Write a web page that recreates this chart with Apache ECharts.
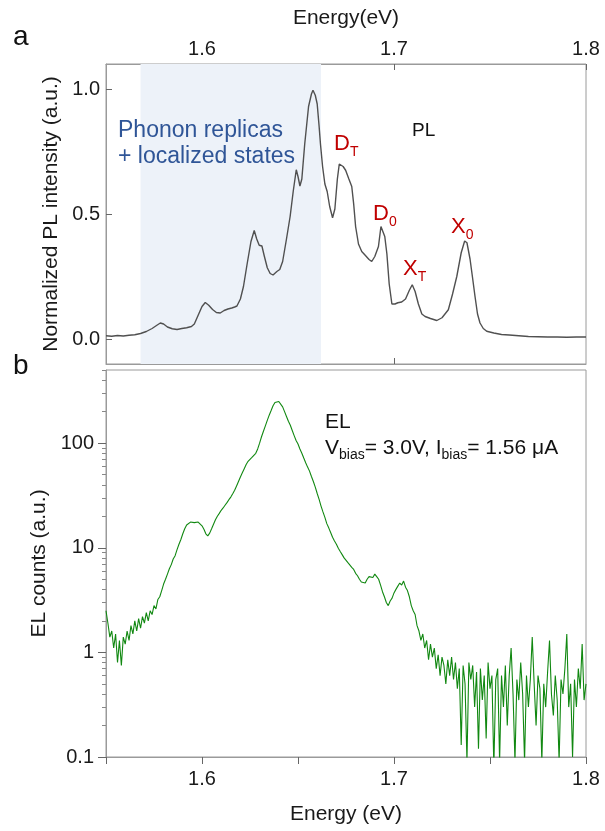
<!DOCTYPE html>
<html>
<head>
<meta charset="utf-8">
<script src="https://cdn.jsdelivr.net/npm/echarts@6/dist/echarts.min.js"></script>
<style>
  html, body { margin: 0; padding: 0; background: #fff; }
  #chart { width: 605px; height: 831px; }
</style>
</head>
<body>
<div id="chart"></div>
<script>
// PL spectrum (panel a), normalized
var plEnergy = [1.5500, 1.5530, 1.5560, 1.5590, 1.5620, 1.5650, 1.5680, 1.5710, 1.5740, 1.5765,
  1.5783, 1.5800, 1.5820, 1.5845, 1.5870, 1.5895, 1.5920, 1.5945, 1.5960, 1.5980,
  1.6000, 1.6017, 1.6035, 1.6055, 1.6075, 1.6095, 1.6115, 1.6135, 1.6155, 1.6170,
  1.6182, 1.6200, 1.6216, 1.6235, 1.6255, 1.6272, 1.6285, 1.6298, 1.6312, 1.6325,
  1.6340, 1.6355, 1.6370, 1.6390, 1.6405, 1.6420, 1.6440, 1.6459, 1.6475, 1.6491,
  1.6500, 1.6510, 1.6520, 1.6535, 1.6555, 1.6570, 1.6578, 1.6590, 1.6600, 1.6610,
  1.6617, 1.6628, 1.6640, 1.6652, 1.6665, 1.6680, 1.6692, 1.6705, 1.6715, 1.6725,
  1.6735, 1.6748, 1.6765, 1.6780, 1.6790, 1.6800, 1.6815, 1.6832, 1.6850, 1.6870,
  1.6884, 1.6900, 1.6919, 1.6932, 1.6940, 1.6952, 1.6963, 1.6975, 1.6989, 1.7005,
  1.7020, 1.7040, 1.7060, 1.7080, 1.7095, 1.7110, 1.7127, 1.7145, 1.7162, 1.7190,
  1.7223, 1.7250, 1.7283, 1.7305, 1.7327, 1.7350, 1.7368, 1.7380, 1.7396, 1.7410,
  1.7422, 1.7435, 1.7448, 1.7465, 1.7483, 1.7520, 1.7560, 1.7600, 1.7650, 1.7700,
  1.7750, 1.7800, 1.7850, 1.7900, 1.7950, 1.8000];
var plIntensity = [0.013, 0.011, 0.014, 0.012, 0.015, 0.017, 0.022, 0.030, 0.042, 0.055,
  0.064, 0.060, 0.048, 0.041, 0.038, 0.042, 0.045, 0.050, 0.060, 0.095,
  0.130, 0.146, 0.135, 0.118, 0.106, 0.104, 0.114, 0.120, 0.124, 0.128,
  0.132, 0.160, 0.210, 0.300, 0.390, 0.434, 0.400, 0.375, 0.372, 0.330,
  0.285, 0.262, 0.256, 0.270, 0.278, 0.310, 0.400, 0.490, 0.590, 0.677,
  0.650, 0.612, 0.640, 0.780, 0.930, 0.980, 0.995, 0.975, 0.940, 0.850,
  0.780, 0.690, 0.620, 0.590, 0.530, 0.485, 0.520, 0.640, 0.700, 0.705,
  0.690, 0.675, 0.640, 0.610, 0.540, 0.450, 0.380, 0.350, 0.335, 0.318,
  0.310, 0.330, 0.370, 0.450, 0.455, 0.410, 0.340, 0.220, 0.140, 0.140,
  0.145, 0.148, 0.160, 0.195, 0.217, 0.190, 0.140, 0.100, 0.090, 0.082,
  0.074, 0.085, 0.117, 0.180, 0.250, 0.345, 0.392, 0.385, 0.320, 0.240,
  0.170, 0.100, 0.064, 0.042, 0.031, 0.024, 0.018, 0.016, 0.013, 0.010,
  0.009, 0.008, 0.008, 0.007, 0.008, 0.008];

// EL spectrum (panel b), one reading every 1 meV from 1.550 eV
var elStart = 1.550;
var elStep = 0.001;
var elCounts = [
  2.5, 1.9, 1.4, 1.6, 1.1, 1.5, 0.8, 1.3, 0.75, 1.4,
  1.2, 1.6, 1.3, 1.8, 1.5, 2.0, 1.6, 2.1, 1.7, 2.2,
  1.9, 2.4, 2.0, 2.5, 2.3, 2.8, 2.6, 3.2, 3.4, 3.9,
  4.5, 5.0, 5.6, 6.3, 6.9, 7.8, 8.4, 9.6, 10.8, 12.0,
  13.6, 15.2, 16.5, 17.2, 17.6, 17.9, 17.4, 18.0, 17.6, 17.0,
  16.2, 15.0, 13.6, 13.0, 13.8, 15.2, 16.8, 18.5, 20.0, 21.3,
  22.8, 24.0, 25.5, 27.0, 28.8, 30.5, 32.8, 35.5, 39.0, 43.0,
  47.5, 52.0, 57.0, 62.5, 67.0, 70.0, 73.0, 76.0, 80.0, 88.0,
  100, 115, 130, 146, 165, 185, 205, 228, 245, 252,
  250, 240, 222, 200, 180, 162, 148, 132, 118, 106,
  98, 88, 80, 72, 65, 59, 54, 48, 43, 38,
  33, 29, 25, 22, 19.5, 17, 15.5, 14, 12.6, 11.6,
  10.8, 9.9, 9.2, 8.6, 8.0, 7.8, 7.2, 7.0, 6.5, 6.2,
  5.7, 5.4, 5.0, 4.7, 4.5, 4.6, 5.0, 5.3, 5.5, 5.2,
  5.6, 5.3, 5.0, 4.4, 3.8, 3.4, 3.0, 2.8, 3.1, 3.3,
  3.7, 4.0, 4.3, 4.6, 4.4, 4.8, 4.2, 3.9, 3.4, 2.8,
  2.5, 2.3, 1.8, 1.6, 1.3, 1.5, 1.1, 1.3, 0.85, 1.2,
  0.9, 1.1, 0.7, 0.95, 0.6, 0.9, 0.75, 0.5, 0.85, 0.6,
  0.9, 0.55, 0.8, 0.45, 0.7, 0.13, 0.75, 0.5, 0.09, 0.8,
  0.55, 0.75, 0.3, 0.65, 0.12, 0.7, 0.35, 0.6, 0.15, 0.8,
  0.45, 0.6, 0.08, 0.55, 0.7, 0.09, 0.6, 0.3, 0.75, 0.2,
  0.6, 1.1, 0.4, 0.09, 0.55, 0.35, 0.8, 0.4, 0.09, 0.6,
  0.3, 0.55, 1.4, 0.5, 0.2, 0.6, 0.45, 0.09, 0.5, 0.3,
  0.65, 1.3, 0.4, 0.25, 0.6, 0.35, 0.09, 0.55, 0.4, 0.7,
  1.5, 0.3, 0.5, 0.1, 0.55, 0.3, 0.7, 0.45, 1.2, 0.35,
  0.5];

var energyTicks = [1.6, 1.7, 1.8];
var plTicks = [0, 0.5, 1.0];
var elMajorTicks = [0.1, 1, 10, 100];
var elMinorTicks = [0.2, 0.3, 0.4, 0.5, 0.6, 0.7, 0.8, 0.9,
  2, 3, 4, 5, 6, 7, 8, 9, 20, 30, 40, 50, 60, 70, 80, 90,
  200, 300, 400, 500];
var shadeRange = [1.568, 1.662];

var FONT = 'Liberation Sans';
var axisGrey = '#9a9a9a';

var plData = plEnergy.map(function (e, i) { return [e, plIntensity[i]]; });
var elData = elCounts.map(function (c, i) { return [+(elStart + i * elStep).toFixed(3), c]; });

// text helpers: main text plus optional subscripts, placed left to right
var ctx = document.createElement('canvas').getContext('2d');
function textWidth(str, size) {
  ctx.font = size + 'px "' + FONT + '"';
  return ctx.measureText(str).width;
}
function txt(x, y, str, size, color) {
  return {
    type: 'text', x: x, y: y, z: 100, silent: true,
    style: { text: str, fill: color, fontSize: size, fontFamily: FONT, textVerticalAlign: 'middle' }
  };
}
function subText(x, y, parts, size, subSize, color) {
  var out = [];
  parts.forEach(function (p) {
    var fs = p[1] ? subSize : size;
    out.push(txt(x, p[1] ? y + size * 0.36 : y, p[0], fs, color));
    x += textWidth(p[0], fs);
  });
  return out;
}

var red = '#c00000';
var graphics = [
  txt(13, 37, 'a', 28, '#111'),
  txt(13, 366, 'b', 28, '#111'),
  txt(118, 131, 'Phonon replicas', 23, '#2f5597'),
  txt(118, 157, '+ localized states', 23, '#2f5597'),
  txt(412, 131, 'PL', 19, '#111'),
  txt(325, 422, 'EL', 21, '#111')
]
  .concat(subText(334, 144, [['D', 0], ['T', 1]], 22, 14, red))
  .concat(subText(373, 214, [['D', 0], ['0', 1]], 22, 14, red))
  .concat(subText(403, 269, [['X', 0], ['T', 1]], 22, 14, red))
  .concat(subText(451, 227, [['X', 0], ['0', 1]], 22, 14, red))
  .concat(subText(325, 448, [['V', 0], ['bias', 1], ['= 3.0V, I', 0], ['bias', 1], ['= 1.56 \u03bcA', 0]], 21, 14, '#111'));

var chart = echarts.init(document.getElementById('chart'));
var labelStyle = { fontSize: 20, fontFamily: FONT, color: '#1a1a1a' };
var nameStyle = { fontSize: 21, fontFamily: FONT, color: '#1a1a1a' };
var fmt1 = function (v) { return v.toFixed(1); };

var option = {
  animation: false,
  textStyle: { fontFamily: FONT },
  grid: [
    { left: 106, top: 64, width: 480, height: 300, show: true, borderColor: axisGrey, borderWidth: 1 },
    { left: 106, top: 370, width: 480, height: 387, show: true, borderColor: axisGrey, borderWidth: 1 }
  ],
  xAxis: [
    {
      gridIndex: 0, type: 'value', position: 'top', min: 1.55, max: 1.8,
      name: 'Energy(eV)', nameLocation: 'middle', nameGap: 35, nameTextStyle: nameStyle,
      axisLine: { onZero: false, lineStyle: { color: axisGrey } },
      axisTick: { inside: true, length: 6, customValues: energyTicks, lineStyle: { color: '#666' } },
      axisLabel: Object.assign({ customValues: energyTicks, margin: 5, formatter: fmt1 }, labelStyle),
      splitLine: { show: false }
    },
    {
      gridIndex: 0, type: 'value', position: 'bottom', min: 1.55, max: 1.8,
      axisLine: { onZero: false, lineStyle: { color: axisGrey } },
      axisTick: { inside: true, length: 6, customValues: [1.6, 1.7], lineStyle: { color: '#666' } },
      axisLabel: { show: false },
      splitLine: { show: false }
    },
    {
      gridIndex: 1, type: 'value', position: 'bottom', min: 1.55, max: 1.8, interval: 0.05,
      name: 'Energy (eV)', nameLocation: 'middle', nameGap: 47, nameTextStyle: nameStyle,
      axisLine: { onZero: false, lineStyle: { color: axisGrey } },
      axisTick: { length: 7, lineStyle: { color: '#666' } },
      axisLabel: Object.assign({ customValues: energyTicks, margin: 12, formatter: fmt1 }, labelStyle),
      splitLine: { show: false }
    }
  ],
  yAxis: [
    {
      gridIndex: 0, type: 'value', position: 'left', min: -0.1, max: 1.1,
      name: 'Normalized PL intensity (a.u.)', nameLocation: 'middle', nameGap: 37, nameTextStyle: nameStyle,
      axisLine: { show: true, onZero: false, lineStyle: { color: axisGrey } },
      axisTick: { show: true, inside: true, length: 6, customValues: plTicks, lineStyle: { color: '#666' } },
      axisLabel: Object.assign({ customValues: plTicks, margin: 6, formatter: fmt1 }, labelStyle),
      splitLine: { show: false }
    },
    {
      gridIndex: 1, type: 'log', logBase: 10, min: 0.1, max: 500, position: 'left',
      name: 'EL counts (a.u.)', nameLocation: 'middle', nameGap: 54, nameTextStyle: nameStyle,
      axisLine: { show: true, onZero: false, lineStyle: { color: axisGrey } },
      axisTick: { show: true, length: 8, customValues: elMajorTicks, lineStyle: { color: '#666' } },
      axisLabel: Object.assign({ customValues: elMajorTicks, margin: 12, formatter: function (v) { return String(+v.toPrecision(3)); } }, labelStyle),
      splitLine: { show: false }
    },
    {
      gridIndex: 1, type: 'log', logBase: 10, min: 0.1, max: 500, position: 'left', offset: 0,
      axisLine: { show: false, onZero: false },
      axisTick: { show: true, length: 4, customValues: elMinorTicks, lineStyle: { color: '#888' } },
      axisLabel: { show: false },
      splitLine: { show: false }
    }
  ],
  series: [
    {
      type: 'line', xAxisIndex: 0, yAxisIndex: 0, data: plData,
      showSymbol: false, symbol: 'none', clip: true,
      lineStyle: { color: '#505050', width: 1.4 },
      markArea: {
        silent: true,
        itemStyle: { color: '#edf2f9' },
        data: [[{ xAxis: shadeRange[0] }, { xAxis: shadeRange[1] }]]
      },
      z: 3
    },
    {
      type: 'line', xAxisIndex: 2, yAxisIndex: 1, data: elData,
      showSymbol: false, symbol: 'none', clip: true,
      lineStyle: { color: '#118811', width: 1.1 }
    }
  ],
  graphic: graphics
};
chart.setOption(option);
</script>
</body>
</html>
